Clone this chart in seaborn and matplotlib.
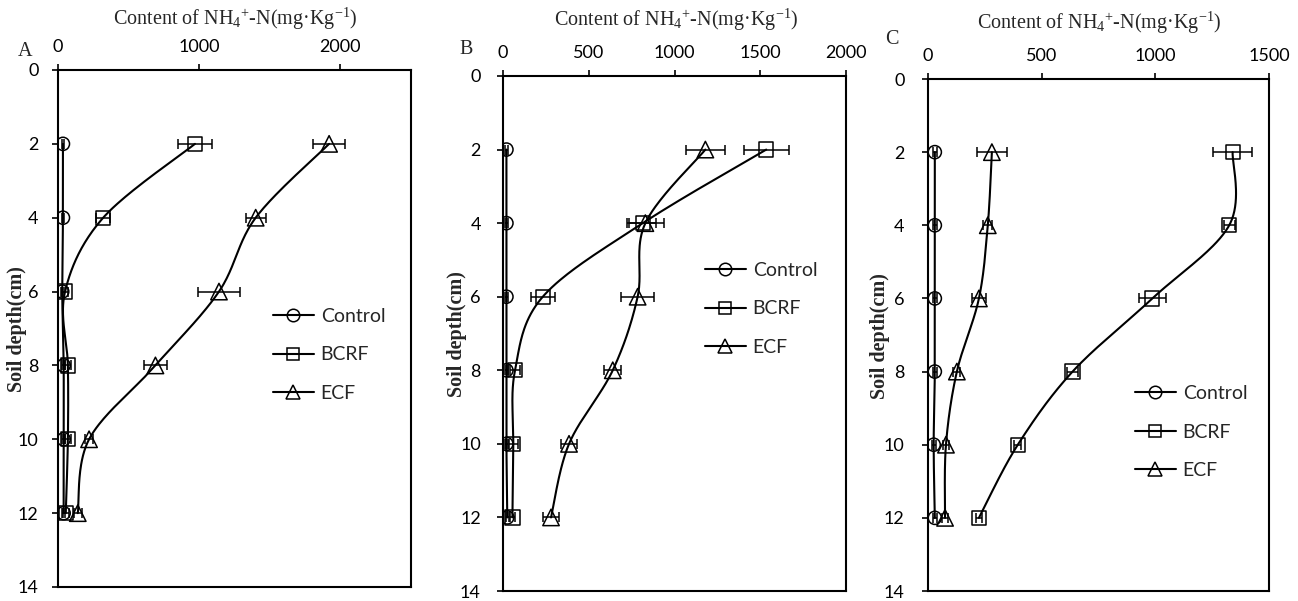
import numpy as np
import pandas as pd
import matplotlib
matplotlib.use("Agg")
import matplotlib.pyplot as plt
import seaborn as sns
from matplotlib.lines import Line2D

# Soil depth (cm) of each sampling layer
depth = [2, 4, 6, 8, 10, 12]
treatments = ["Control", "BCRF", "ECF"]

# NH4+-N content (mg/kg), panel A
a_control = [35, 35, 30, 40, 40, 40]
a_bcrf = [970, 320, 50, 70, 70, 55]
a_ecf = [1920, 1400, 1140, 690, 220, 140]
a_control_err = [10, 10, 10, 10, 10, 10]
a_bcrf_err = [120, 50, 20, 20, 20, 20]
a_ecf_err = [115, 70, 150, 80, 30, 30]

# panel B
b_control = [20, 20, 20, 20, 20, 25]
b_bcrf = [1535, 815, 232, 70, 60, 55]
b_ecf = [1180, 830, 785, 640, 385, 280]
b_control_err = [10, 10, 10, 10, 10, 10]
b_bcrf_err = [130, 80, 70, 30, 25, 15]
b_ecf_err = [115, 107, 95, 50, 45, 45]

# panel C
c_control = [30, 30, 30, 30, 25, 30]
c_bcrf = [1340, 1325, 987, 636, 395, 224]
c_ecf = [281, 263, 224, 127, 79, 75]
c_control_err = [8, 8, 8, 8, 8, 8]
c_bcrf_err = [85, 25, 60, 25, 15, 15]
c_ecf_err = [65, 20, 30, 15, 15, 15]

panel_letters = ["A", "B", "C"]
x_limits = [2500, 2000, 1500]
x_ticks = [[0, 1000, 2000], [0, 500, 1000, 1500, 2000], [0, 500, 1000, 1500]]
y_ticks = [0, 2, 4, 6, 8, 10, 12, 14]

panels = [
    (a_control, a_bcrf, a_ecf, a_control_err, a_bcrf_err, a_ecf_err),
    (b_control, b_bcrf, b_ecf, b_control_err, b_bcrf_err, b_ecf_err),
    (c_control, c_bcrf, c_ecf, c_control_err, c_bcrf_err, c_ecf_err),
]

sns.set_style("ticks")
plt.rcParams["font.family"] = ["Lato", "DejaVu Sans"]
plt.rcParams["mathtext.fontset"] = "custom"
plt.rcParams["mathtext.rm"] = "Liberation Serif"
plt.rcParams["mathtext.it"] = "Liberation Serif:italic"
plt.rcParams["mathtext.bf"] = "Liberation Serif:bold"

SERIF = ["Liberation Serif", "DejaVu Serif"]
W, H = 1298, 601


def fx(px):
    return px / W


def fy(py):
    return 1 - py / H


def smooth_curve(x, y, sx, sy, n=40):
    """Bezier smoothing through the points (Excel-style smoothed line)."""
    pts = np.column_stack([np.asarray(x, float) * sx, np.asarray(y, float) * sy])
    parts = []
    for i in range(len(pts) - 1):
        p0 = pts[max(i - 1, 0)]
        p1, p2 = pts[i], pts[i + 1]
        p3 = pts[min(i + 2, len(pts) - 1)]
        b1 = p1 + (p2 - p0) / 6.0
        b2 = p2 - (p3 - p1) / 6.0
        t = np.linspace(0, 1, n)[:, None]
        seg = (1 - t) ** 3 * p1 + 3 * (1 - t) ** 2 * t * b1 + 3 * (1 - t) * t ** 2 * b2 + t ** 3 * p2
        parts.append(seg if i == 0 else seg[1:])
    c = np.vstack(parts)
    return c[:, 0] / sx, c[:, 1] / sy


# axes boxes in pixels: left, top, right, bottom
boxes = [(58, 70, 411, 587), (503, 76, 846, 591), (928, 79, 1269, 591)]
xlabel_pos = [(235, 25), (676, 26), (1099, 29)]
ylabel_pos = [(17, 329), (457, 334), (880, 336)]
letter_pos = [(25, 51), (466, 49), (892, 39)]
legend_pos = [(273, 355), (705, 309), (1135, 432)]
ytick_pad = [10, 12, 13]

markers = {"Control": ("o", 90), "BCRF": ("s", 105), "ECF": ("^", 140)}

fig = plt.figure(figsize=(W / 100, H / 100), dpi=100)

for k, (l, t, r, b) in enumerate(boxes):
    ax = fig.add_axes([fx(l), fy(b), fx(r - l), (b - t) / H])
    vals = panels[k]
    xmax = x_limits[k]
    sx = (r - l) / xmax
    sy = (b - t) / 14.0
    for j, name in enumerate(treatments):
        v = vals[j]
        e = vals[j + 3]
        cx, cy = smooth_curve(v, depth, sx, sy)
        sns.lineplot(x=cx, y=cy, sort=False, estimator=None, color="black",
                     linewidth=1.5, ax=ax, zorder=2)
        ax.errorbar(v, depth, xerr=e, fmt="none", ecolor="black",
                    elinewidth=1.1, capsize=3.5, capthick=1.1, zorder=3)
        m, s = markers[name]
        sns.scatterplot(x=v, y=depth, marker=m, s=s, facecolor="none",
                        edgecolor="black", linewidth=1.1, ax=ax, zorder=4)

    ax.set_xlim(0, xmax)
    ax.set_ylim(14, 0)
    ax.set_xticks(x_ticks[k])
    ax.set_yticks(y_ticks)
    ax.xaxis.tick_top()
    ax.tick_params(axis="x", direction="out", length=4, width=1.2, pad=7,
                   labelsize=13, colors="black")
    ax.tick_params(axis="y", direction="out", length=4, width=1.2,
                   pad=ytick_pad[k], labelsize=13, colors="black")
    ax.set_xlabel("")
    ax.set_ylabel("")
    for sp in ax.spines.values():
        sp.set_visible(True)
        sp.set_linewidth(1.5)
        sp.set_color("black")

    fig.text(fx(xlabel_pos[k][0]), fy(xlabel_pos[k][1]),
             "Content of NH$_4{}^{+}$-N(mg·Kg$^{\\mathrm{-1}}$)",
             ha="center", va="baseline", fontsize=14.5, family=SERIF)
    fig.text(fx(ylabel_pos[k][0]), fy(ylabel_pos[k][1]), "Soil depth(cm)",
             ha="center", va="center", rotation=90, fontsize=14.5,
             fontweight="bold", family=SERIF)
    fig.text(fx(letter_pos[k][0]), fy(letter_pos[k][1]), panel_letters[k],
             ha="center", va="center", fontsize=14.5, family=SERIF)

    handles = [Line2D([0], [0], color="black", lw=1.5, marker=markers[n][0],
                      markersize=9 if n != "ECF" else 10, markerfacecolor="none",
                      markeredgecolor="black", markeredgewidth=1.1)
               for n in treatments]
    ax.legend(handles, treatments, loc="center left",
              bbox_to_anchor=(fx(legend_pos[k][0]), fy(legend_pos[k][1])),
              bbox_transform=fig.transFigure, frameon=False, fontsize=14,
              handlelength=2.1, handletextpad=0.35, labelspacing=1.1,
              borderpad=0, borderaxespad=0, numpoints=1)

fig.savefig("out.png", dpi=100)
